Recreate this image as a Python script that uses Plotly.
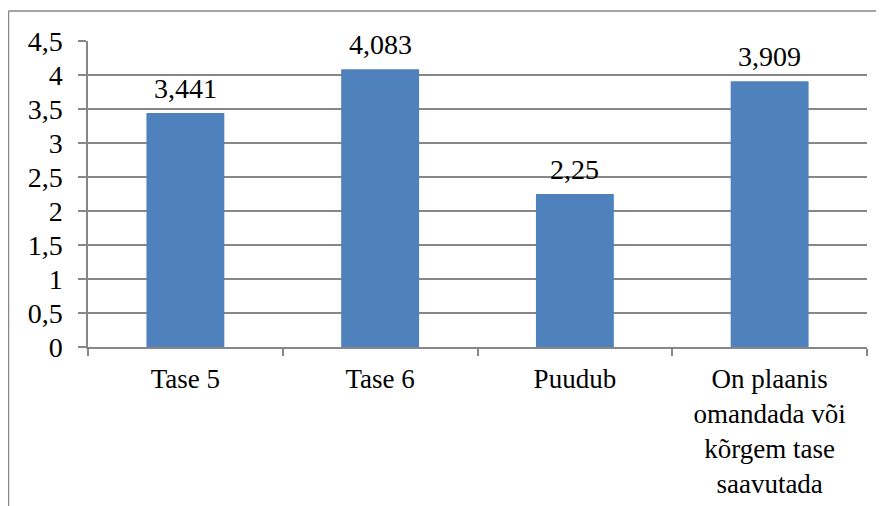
import plotly.graph_objects as go

categories = ["Tase 5", "Tase 6", "Puudub",
              "On plaanis<br>omandada või<br>kõrgem tase<br>saavutada"]
values = [3.441, 4.083, 2.25, 3.909]
value_labels = [f"{v:g}".replace(".", ",") for v in values]

# page has an 8px body margin; figure coordinates are page coordinates minus 8
OFF = 8
W, H = 884 - OFF, 506 - OFF
L, R, T = 88 - OFF, 17, 41 - OFF
PH = 306
B = H - T - PH
FONT = '"Liberation Serif", "Times New Roman", Tinos, "DejaVu Serif", serif'
GREY = "#878787"
BAR = "#4F81BD"

fig = go.Figure()
fig.add_trace(go.Bar(
    x=categories, y=values,
    marker=dict(color=BAR, line=dict(width=0)),
    hoverinfo="skip",
))

for c, v, lab in zip(categories, values, value_labels):
    fig.add_annotation(x=c, y=v, text=lab, showarrow=False,
                       yanchor="bottom", yshift=7,
                       font=dict(family=FONT, size=28, color="black"))

pw = W - L - R
# chart-area border (top and left edges visible)
x_left = (8 - OFF + 0.5 - L) / pw
y_top = 1 + (T - (11 - OFF)) / PH
x_right = (W - L) / pw
y_bottom = -(H - T - PH) / PH
fig.add_shape(type="line", xref="paper", yref="paper",
              x0=x_left, x1=x_right, y0=y_top, y1=y_top,
              line=dict(color=GREY, width=1.5))
fig.add_shape(type="line", xref="paper", yref="paper",
              x0=x_left, x1=x_left, y0=y_top, y1=y_bottom,
              line=dict(color=GREY, width=1.5))

fig.update_layout(
    width=W, height=H,
    margin=dict(l=L, r=R, t=T, b=B, autoexpand=False),
    paper_bgcolor="white", plot_bgcolor="white",
    separators=",.",
    bargap=0.6,
    showlegend=False,
    font=dict(family=FONT, size=28, color="black"),
)
fig.update_xaxes(
    showline=True, linecolor=GREY, linewidth=1.5,
    ticks="outside", tickson="boundaries", ticklen=7, tickcolor=GREY, tickwidth=1.5,
    tickfont=dict(family=FONT, size=27, color="black"),
    showgrid=False, fixedrange=True, ticklabelstandoff=7,
)
fig.update_yaxes(
    range=[0, 4.5], dtick=0.5, tick0=0,
    showline=True, linecolor=GREY, linewidth=1.5,
    ticks="outside", ticklen=8, tickcolor=GREY, tickwidth=1.5,
    showgrid=True, gridcolor=GREY, gridwidth=1.5,
    zeroline=False,
    tickfont=dict(family=FONT, size=28, color="black"),
    ticklabelstandoff=10, fixedrange=True,
)

fig.write_html("out.html")
